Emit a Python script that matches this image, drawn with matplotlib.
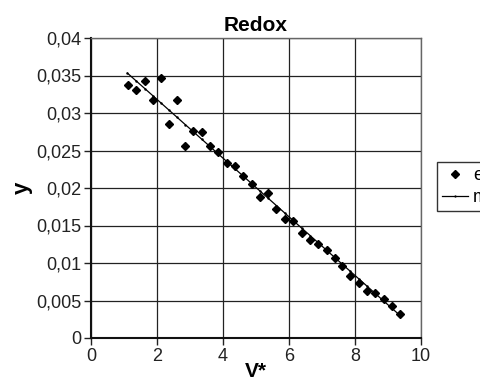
import matplotlib
matplotlib.use("Agg")
import matplotlib.pyplot as plt
from matplotlib.ticker import FuncFormatter

plt.rcParams['font.family'] = ['Liberation Sans', 'DejaVu Sans']

x_exp = [1.12, 1.37, 1.63, 1.88, 2.13, 2.37, 2.61, 2.86, 3.10, 3.35, 3.61, 3.86,
         4.11, 4.36, 4.62, 4.87, 5.12, 5.37, 5.62, 5.88, 6.13, 6.38, 6.64, 6.89,
         7.14, 7.39, 7.62, 7.85, 8.11, 8.36, 8.62, 8.87, 9.12, 9.37]
y_exp = [0.03369, 0.03311, 0.03422, 0.03178, 0.03467, 0.02858, 0.03178, 0.02560,
         0.02760, 0.02742, 0.02564, 0.02480, 0.02329, 0.02289, 0.02160, 0.02053,
         0.01884, 0.01938, 0.01716, 0.01582, 0.01564, 0.01400, 0.01307, 0.01258,
         0.01178, 0.01062, 0.00964, 0.00822, 0.00733, 0.00622, 0.00604, 0.00520,
         0.00427, 0.00316]
x_mod = [1.10, 1.37, 1.63, 1.88, 2.13, 2.37, 2.61, 2.86, 3.10, 3.35, 3.61, 3.86,
         4.11, 4.36, 4.62, 4.87, 5.12, 5.37, 5.62, 5.88, 6.13, 6.38, 6.64, 6.89,
         7.14, 7.39, 7.62, 7.85, 8.11, 8.36, 8.62, 8.87, 9.12, 9.36]
y_mod = [0.03533, 0.03427, 0.03326, 0.03228, 0.03130, 0.03036, 0.02942, 0.02844,
         0.02751, 0.02653, 0.02551, 0.02453, 0.02355, 0.02258, 0.02156, 0.02058,
         0.01960, 0.01863, 0.01765, 0.01663, 0.01565, 0.01467, 0.01366, 0.01268,
         0.01170, 0.01072, 0.00982, 0.00892, 0.00791, 0.00693, 0.00591, 0.00493,
         0.00396, 0.00302]
x_ticks = [0, 2, 4, 6, 8, 10]
y_ticks = [0, 0.005, 0.01, 0.015, 0.02, 0.025, 0.03, 0.035, 0.04]

fig = plt.figure(figsize=(4.8, 3.84), dpi=100)
ax = fig.add_axes([91/480, 1-338/384, 330/480, 300/384])

ax.plot(x_exp, y_exp, linestyle='none', marker='D', markersize=4.5,
        color='black', label='exp', zorder=3)
ax.plot(x_mod, y_mod, linestyle='-', linewidth=0.9, marker='.', markersize=1.5,
        color='black', label='model', zorder=3)

ax.set_xlim(0, 10)
ax.set_ylim(0, 0.04)
ax.set_xticks(x_ticks)
ax.set_yticks(y_ticks)

def fmt(v, pos):
    s = ('%g' % round(v, 4))
    return s.replace('.', ',')
ax.yaxis.set_major_formatter(FuncFormatter(fmt))
ax.xaxis.set_major_formatter(FuncFormatter(fmt))

ax.grid(True, color='#222222', linewidth=0.9)
ax.set_axisbelow(True)
ax.tick_params(axis='both', direction='out', length=5, width=1, labelsize=13,
               colors='#222222', pad=2)
for side in ['top', 'right']:
    ax.spines[side].set_color('#666666')
    ax.spines[side].set_linewidth(1.0)
for side in ['left', 'bottom']:
    ax.spines[side].set_color('#111111')
    ax.spines[side].set_linewidth(1.5)

ax.set_title('Redox', fontsize=15, fontweight='bold', pad=5)
ax.set_xlabel('V*', fontsize=15, fontweight='bold', labelpad=-2)
ax.set_ylabel('y', fontsize=16, fontweight='bold', labelpad=2)

leg = fig.legend(loc='upper left', bbox_to_anchor=(437/480, 1-162/384),
                 borderaxespad=0,
                 fontsize=13, frameon=True, fancybox=False, edgecolor='black',
                 handlelength=1.4, handletextpad=0.3, borderpad=0.3,
                 labelspacing=0.25, markerscale=0.8)
leg.get_frame().set_linewidth(1.0)

fig.savefig('out.png', dpi=100)
